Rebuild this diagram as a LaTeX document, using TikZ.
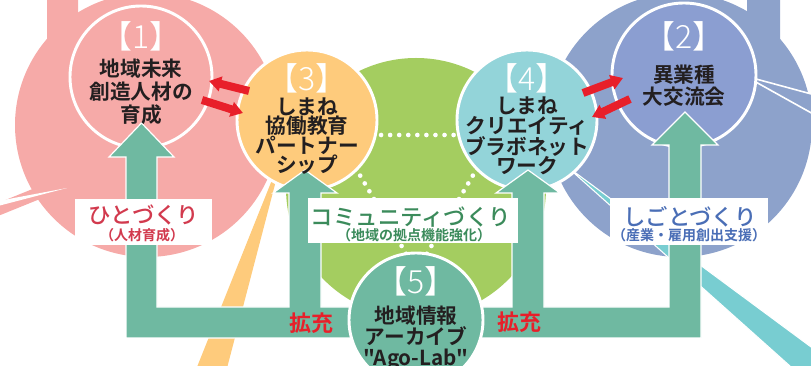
\documentclass[tikz,border=0pt]{standalone}
\usepackage{fontspec}
\usetikzlibrary{arrows.meta}
\newfontfamily\jp{Noto Sans CJK JP}[BoldFont={* Bold}]
\newfontfamily\jpmed{Noto Sans CJK JP Medium}
\newfontfamily\jplight{Noto Sans CJK JP Light}
\definecolor{hito}{HTML}{F6AAA8}
\definecolor{shigoto}{HTML}{8DA2CB}
\definecolor{shigotoin}{HTML}{8B9ED1}
\definecolor{kyodo}{HTML}{FECB7C}
\definecolor{creative}{HTML}{93D4D9}
\definecolor{creativetail}{HTML}{78CDD1}
\definecolor{community}{HTML}{A4CD60}
\definecolor{archive}{HTML}{6FB9A1}
\definecolor{alert}{HTML}{E81F2A}
\definecolor{hitotxt}{HTML}{D23A4E}
\definecolor{commtxt}{HTML}{3B8B5B}
\definecolor{shigototxt}{HTML}{4A6EB6}
\definecolor{ink}{HTML}{231F20}

\begin{document}
\begin{tikzpicture}[x=0.75pt,y=-0.75pt,
  bubble/.style={circle,draw=white,line width=2.2pt,inner sep=0pt},
  numlbl/.style={font=\jplight\fontsize{24}{24}\selectfont,text=white,inner sep=0pt},
  body/.style={font=\jp\bfseries\fontsize{15.5}{#1}\selectfont,text=ink,align=center,inner sep=0pt},
  body/.default=14.6pt,
  catbox/.style={fill=white,inner sep=0pt},
  cattxt/.style={font=\jpmed\fontsize{16.8}{16.8}\selectfont,inner sep=0pt},
  subtxt/.style={font=\jp\bfseries\fontsize{10.5}{10.5}\selectfont,inner sep=0pt},
  flow/.style={fill=archive,draw=white,line width=0.9pt},
  xchg/.style={draw=alert,line width=6pt,-{Triangle[length=9pt,width=11pt]}},
  dotline/.style={draw=white,line width=3.5pt,line cap=round,dash pattern=on 0pt off 6.8pt},
  tail/.style={draw=white,line width=0.8pt}]
  \useasboundingbox (0,0) rectangle (811,366);
  \clip (0,0) rectangle (811,366);

  % background bubbles
  \fill[hito] (47,-2) -- (78,-2) -- (78,30) -- (47,60) -- cycle;
  \fill[hito] (40,186) -- (-2,203) -- (-2,216) -- (40,199) -- cycle;
  \fill[hito] (147,125) circle[radius=132];
  \fill[white] (67,188) -- (-2,201) -- (-2,206) -- cycle;
  \fill[shigoto] (747,-2) -- (780,-2) -- (780,60) -- (747,30) -- cycle;
  \fill[shigoto] (680,125) circle[radius=132];
  \draw[tail,line width=1.2pt,fill=shigoto] (745,76) -- (815,95) -- (815,115) -- cycle;

  % community core with dotted links
  \fill[community] (416,188) circle[radius=130];
  \draw[dotline] (372,135) -- (462,135);
  \draw[dotline] (351,160) -- (411,262);
  \draw[dotline] (482,160) -- (422,262);

  % tails
  \fill[kyodo] (284,150) -- (195,372) -- (226,372) -- cycle;
  \draw[tail,fill=creativetail] (565,165) -- (830,361) -- (800,375) -- cycle;

  % bubbles
  \node[bubble,fill=hito,minimum size=106.5pt] (c1) at (141,77) {};
  \node[bubble,fill=shigotoin,minimum size=108pt] (c2) at (684,75) {};
  \node[bubble,fill=kyodo,minimum size=105pt] (c3) at (307,120) {};
  \node[bubble,fill=creative,minimum size=105pt] (c4) at (527,120) {};

  % exchange arrows
  \foreach \xa/\ya/\xb/\yb in {249/91/209/81, 202/100/243/113, 583/93/623/78, 630/99/592/117}
    \draw[xchg] (\xa,\ya) -- (\xb,\yb);

  % flows
  \draw[flow] (126,338) -- (126,157) -- (109,157) -- (141.5,123) -- (174,157) -- (157,157)
    -- (157,307) -- (289,307) -- (289,193) -- (273,193) -- (305,170) -- (337,193)
    -- (321,193) -- (321,307) -- (385,307) -- (385,338) -- cycle;
  \draw[flow] (701,338) -- (701,145) -- (718,145) -- (685,112) -- (652,145) -- (669,145)
    -- (669,307) -- (544,307) -- (544,193) -- (560,193) -- (528,170) -- (496,193)
    -- (512,193) -- (512,307) -- (447,307) -- (447,338) -- cycle;

  % category labels
  \node[catbox,minimum width=102.75pt,minimum height=34.5pt] (hitobox) at (143.5,222) {};
  \node[catbox,minimum width=157.5pt,minimum height=33.75pt] (commbox) at (413,220.5) {};
  \node[catbox,minimum width=118.5pt,minimum height=35.25pt] (shigotobox) at (689,221.5) {};
  \node[cattxt,text=hitotxt] (hitomain) at (144,215) {ひとづくり};
  \node[subtxt,text=hitotxt] (hitosub) at (142,235) {（人材育成）};
  \node[cattxt,text=commtxt] (commmain) at (411,217) {コミュニティづくり};
  \node[subtxt,text=commtxt] (commsub) at (414,235) {（地域の拠点機能強化）};
  \node[cattxt,text=shigototxt] (shigotomain) at (690,217) {しごとづくり};
  \node[subtxt,text=shigototxt] (shigotosub) at (689,235) {（産業・雇用創出支援）};

  % archive bubble
  \node[bubble,fill=archive,minimum size=100.5pt] (c5) at (416,320) {};

  % bubble texts
  \node[numlbl] (n1) at (141,36) {【1】};
  \node[numlbl] (n2) at (684,36) {【2】};
  \node[numlbl] (n3) at (307,78) {【3】};
  \node[numlbl] (n4) at (527,78) {【4】};
  \node[numlbl] (n5) at (416,281) {【5】};
  \node[body=17.25pt] (t1) at (141,92) {地域未来\\創造人材の\\育成};
  \node[body=16.5pt] (t2) at (684,86) {異業種\\大交流会};
  \node[body] (t3) at (307,136) {しまね\\協働教育\\パートナー\\シップ};
  \node[body] (t4) at (527,136) {しまね\\クリエイティ\\ブラボネット\\ワーク};
  \node[body=15.75pt] (t5) at (416,338) {地域情報\\アーカイブ\\"Ago-Lab"};

  \node[font=\jp\bfseries\fontsize{16.5}{16.5}\selectfont,text=alert] (ex1) at (311,323) {拡充};
  \node[font=\jp\bfseries\fontsize{16.5}{16.5}\selectfont,text=alert] (ex2) at (519,322) {拡充};
\end{tikzpicture}
\end{document}
